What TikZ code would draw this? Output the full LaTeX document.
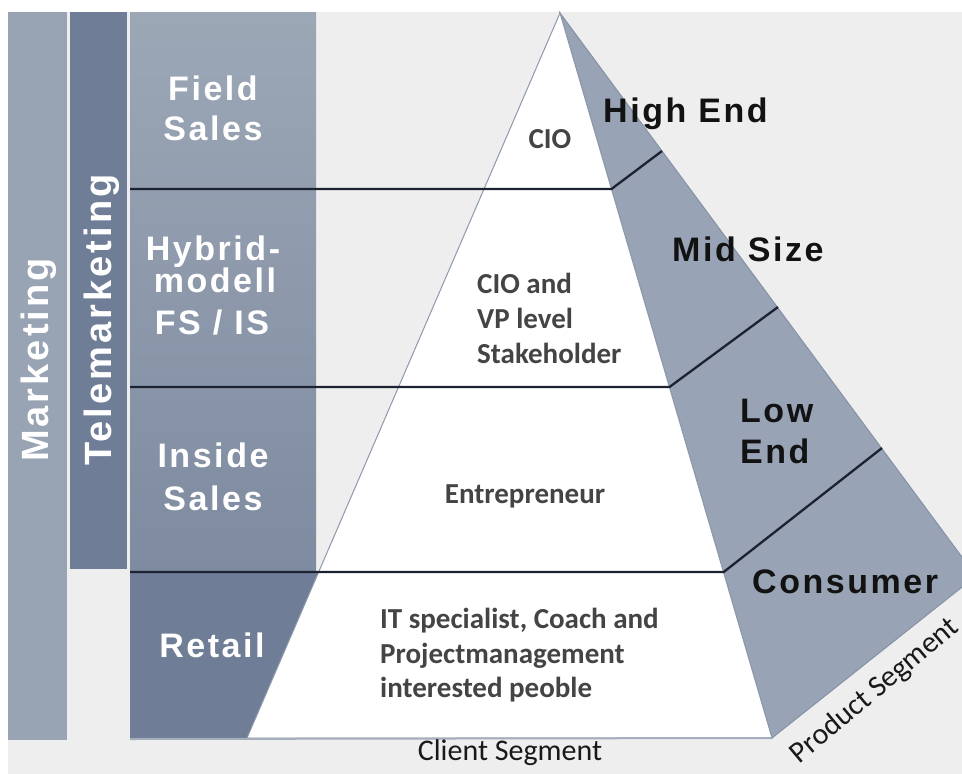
\documentclass[tikz,border=0pt]{standalone}
\usepackage{fontspec}
\setmainfont{Liberation Sans}
\newfontfamily\lblfont[LetterSpace=7.5]{Liberation Sans}
\newfontfamily\vlblfont[LetterSpace=8]{Liberation Sans}
\newfontfamily\calfont{Carlito}
\definecolor{bgc}{HTML}{EEEEEE}
\definecolor{mkc}{HTML}{98A3B3}
\definecolor{tmc}{HTML}{6F7E96}
\definecolor{salestop}{HTML}{9CA7B6}
\definecolor{salesbot}{HTML}{7E8BA0}
\definecolor{facec}{HTML}{98A3B5}
\definecolor{faceedge}{HTML}{8591A5}
\definecolor{edgec}{HTML}{8D98AB}
\definecolor{divc}{HTML}{1C2230}
\definecolor{txtc}{HTML}{444444}
\begin{document}
\begin{tikzpicture}[x=1pt,y=-1pt,
  wlbl/.style={text=white, inner sep=0pt, anchor=base, font=\fontsize{34}{34}\selectfont\lblfont\bfseries},
  blbl/.style={text=black!93, inner sep=0pt, anchor=base west, font=\fontsize{34}{34}\selectfont\lblfont\bfseries},
  vlbl/.style={text=white, inner sep=0pt, anchor=base, rotate=90, font=\fontsize{38}{38}\selectfont\vlblfont\bfseries},
  ptxt/.style={text=txtc, inner sep=0pt, anchor=base west, font=\fontsize{29}{29}\selectfont\calfont\bfseries},
  axlbl/.style={text=black!90, inner sep=0pt, anchor=base, font=\fontsize{30}{30}\selectfont\calfont},
  divider/.style={draw=divc, line width=2.3pt, line join=miter}
]
\useasboundingbox (0,0) rectangle (962,774);
% background
\fill[bgc] (8,12) rectangle (962,774);
% columns
\fill[mkc] (8,12) rectangle (67,740);
\fill[tmc] (70,12) rectangle (127,569);
\shade[top color=salestop, bottom color=salesbot] (130,12) rectangle (316,572);
% pyramid corners
\coordinate (apex) at (560,13);
\coordinate (fl) at (247,738);
\coordinate (fr) at (772,738);
\coordinate (rc) at (976,576);
% retail block
\fill[tmc] (130,572) -- (318.7,572) -- (fl) -- (130,738) -- cycle;
% right face
\begin{scope}
\clip (0,0) rectangle (962,774);
\filldraw[fill=facec, draw=faceedge, line width=1pt] (apex) -- (fr) -- (rc) -- cycle;
\end{scope}
% front face
\filldraw[fill=white, draw=edgec, line width=1pt] (apex) -- (fl) -- (fr) -- cycle;
\draw[draw=edgec!80, line width=2pt] (130,739) -- (fr);
% divider lines
\coordinate (a1) at (130,189);
\coordinate (b1) at (611.5,189);
\coordinate (c1) at (662,151);
\coordinate (a2) at (130,387);
\coordinate (b2) at (669.5,387);
\coordinate (c2) at (778,307);
\coordinate (a3) at (130,572);
\coordinate (b3) at (723.7,572);
\coordinate (c3) at (882,448);
\draw[divider] (a1) -- (b1) -- (c1);
\draw[divider] (a2) -- (b2) -- (c2);
\draw[divider] (a3) -- (b3) -- (c3);
% vertical labels
\node[vlbl] (mkt) at (48,360) {Marketing};
\node[vlbl] (tmk) at (111,320) {Telemarketing};
% sales labels
\node[wlbl] (fs1) at (213,100) {Field};
\node[wlbl] (fs2) at (213,140) {Sales};
\node[wlbl] (hy1) at (213,260) {Hybrid-};
\node[wlbl] (hy2) at (215,292) {modell};
\node[wlbl] (hy3) at (212,334) {FS / IS};
\node[wlbl] (is1) at (213,467) {Inside};
\node[wlbl] (is2) at (213,510) {Sales};
\node[wlbl] (rt) at (212,657) {Retail};
% product labels
\node[blbl] (he) at (603,122) {High End};
\node[blbl] (ms) at (672,261) {Mid Size};
\node[blbl] (le1) at (740,422) {Low};
\node[blbl] (le2) at (740,463) {End};
\node[blbl] (co) at (752,593) {Consumer};
% pyramid texts
\node[ptxt, anchor=base] (cio) at (550,148) {CIO};
\node[ptxt] (cv1) at (477,293) {CIO and};
\node[ptxt] (cv2) at (477,328) {VP level};
\node[ptxt] (cv3) at (477,363) {Stakeholder};
\node[ptxt, anchor=base] (ent) at (525,503) {Entrepreneur};
\node[ptxt] (it1) at (380,628) {IT specialist, Coach and};
\node[ptxt] (it2) at (380,663) {Projectmanagement};
\node[ptxt] (it3) at (380,697) {interested peoble};
% axis labels
\node[axlbl] (client) at (510,760) {Client Segment};
\node[axlbl, rotate=40] (product) at (880,697) {Product Segment};
\end{tikzpicture}
\end{document}
